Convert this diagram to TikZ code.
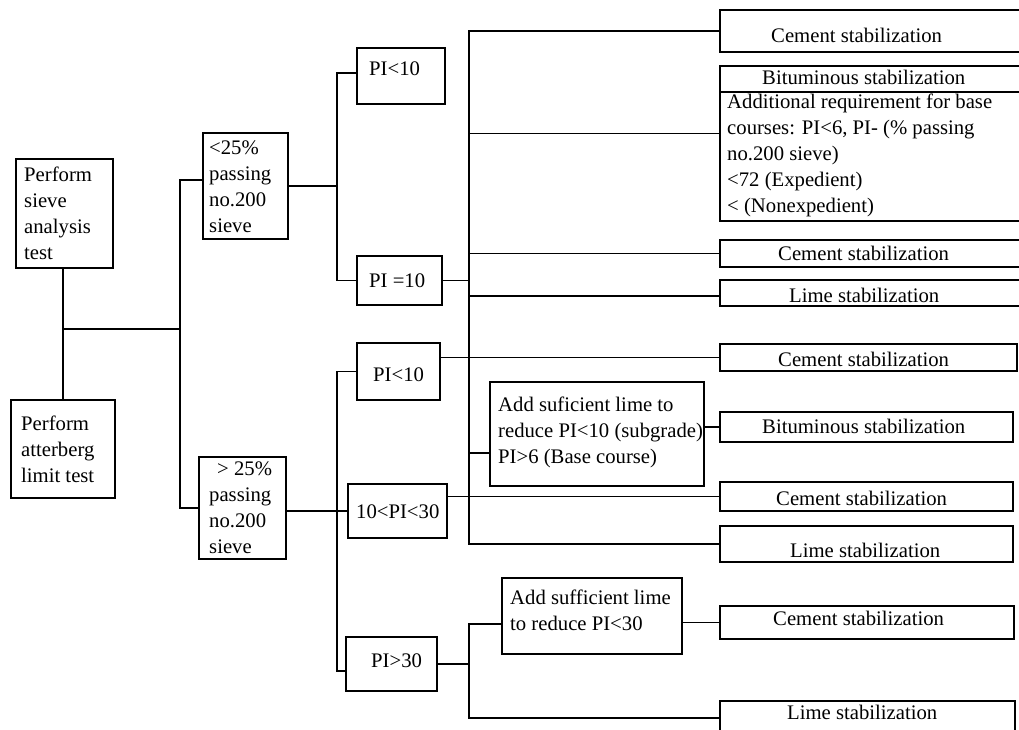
\documentclass[tikz,border=0pt]{standalone}
\usepackage{fontspec}
\setmainfont{Liberation Serif}
\newcommand\fs{\fontsize{20.7}{26}\selectfont}
\tikzset{
  box/.style={draw, line width=1.3pt, inner sep=0pt, outer sep=0pt, rectangle},
  ln/.style={line width=1.3pt},
  txt/.style={inner sep=0pt, font=\fs, align=left, anchor=west},
  one/.style={txt, text height=14pt, text depth=0pt}
}
\newcommand\mybox[5]{\node[box, anchor=north west, minimum width={(#4-#2)*1pt}, minimum height={(#5-#3)*1pt}] (#1) at (#2,-#3) {};}
\begin{document}
\begin{tikzpicture}[x=1pt,y=1pt]
\useasboundingbox (0,0) rectangle (1019,-729);
\clip (0,0) rectangle (1019,-729);
% boxes
\mybox{sieve}{16}{159}{113}{268}
\mybox{atter}{11}{400}{115}{498}
\mybox{lt25}{203}{133}{288}{239}
\mybox{gt25}{199}{457}{286}{559}
\mybox{pia}{357}{48}{445}{104}
\mybox{pieq}{357}{256}{442}{305}
\mybox{pib}{357}{343}{440}{400}
\mybox{pimid}{348}{484}{447}{538}
\mybox{pihi}{346}{637}{437}{691}
\mybox{addlimea}{490}{382}{704}{486}
\mybox{addlimeb}{502}{578}{682}{654}
\mybox{cementa}{720}{10}{1040}{52}
\mybox{bituma}{720}{66}{1040}{92}
\mybox{addreq}{720}{92}{1040}{221}
\mybox{cementb}{720}{240}{1040}{267}
\mybox{limea}{720}{280}{1040}{306}
\mybox{cementc}{720}{344}{1017}{371}
\mybox{bitumb}{720}{412}{1013}{442}
\mybox{cementd}{720}{482}{1013}{511}
\mybox{limeb}{720}{526}{1013}{562}
\mybox{cemente}{720}{606}{1014}{639}
\mybox{limec}{720}{701}{1015}{735}
% texts
\node[txt] (sieve-t) at (24,-213.5) {Perform\\sieve\\analysis\\test};
\node[txt] (atter-t) at (21,-449) {Perform\\atterberg\\limit test};
\node[txt] (lt25-t) at (209,-187) {<25\%\\passing\\no.200\\sieve};
\node[txt] (gt25-t) at (209,-508) {\hspace*{8pt}> 25\%\\passing\\no.200\\sieve};
\node[one] (pia-t) at (369,-68) {PI<10};
\node[one] (pieq-t) at (369,-280) {PI =10};
\node[one] (pib-t) at (373,-374) {PI<10};
\node[one] (pimid-t) at (356,-511) {10<PI<30};
\node[one] (pihi-t) at (371,-660) {PI>30};
\node[txt] (addlimea-t) at (498,-432) {Add suficient lime to\\reduce PI<10 (subgrade)\\PI>6 (Base course)};
\node[txt] (addlimeb-t) at (510,-610) {Add sufficient lime\\to reduce PI<30};
\node[one] (cementa-t) at (771,-35.5) {Cement stabilization};
\node[one] (bituma-t) at (762,-77) {Bituminous stabilization};
\node[txt] (addreq-t) at (727,-155) {Additional requirement for base\\courses: PI<6, PI- (\% passing\\no.200 sieve)\\<72 (Expedient)\\< (Nonexpedient)};
\node[one] (cementb-t) at (778,-253) {Cement stabilization};
\node[one] (limea-t) at (789,-295) {Lime stabilization};
\node[one] (cementc-t) at (778,-359) {Cement stabilization};
\node[one] (bitumb-t) at (762,-426) {Bituminous stabilization};
\node[one] (cementd-t) at (776,-498) {Cement stabilization};
\node[one] (limeb-t) at (790,-550) {Lime stabilization};
\node[one] (cemente-t) at (773,-618) {Cement stabilization};
\node[one] (limec-t) at (787,-712) {Lime stabilization};
% junction coordinates
\coordinate (ja) at (63,-329);
\coordinate (jb) at (180,-329);
\coordinate (jc) at (337,-185);
\coordinate (jd) at (337,-511);
\coordinate (va) at (469,-300);
\coordinate (vb) at (469,-668);
\coordinate (lt25-in) at ([yshift=6pt]lt25.west);
\coordinate (pia-in) at ([yshift=3pt]pia.west);
\coordinate (addreq-in) at ([yshift=23pt]addreq.west);
\coordinate (limea-in) at ([yshift=-3pt]limea.west);
\coordinate (pib-out) at (cementc.west -| pib.east);
\coordinate (addlimea-in) at ([yshift=-19pt]addlimea.west);
\coordinate (pihi-in) at ([yshift=-7pt]pihi.west);
\coordinate (addlimeb-in) at ([yshift=-8pt]addlimeb.west);
% connectors
\draw[ln] (atter.north) -- (atter.north |- sieve.south);
\draw[ln] (ja) -- (jb);
\draw[ln] (lt25-in) -| (jb) |- (gt25.west);
\draw[ln] (lt25.east) -- (lt25.east -| jc);
\draw[ln] (pia-in) -| (jc) |- (pieq.west);
\draw[ln] (cementa.west) -| (va) |- (limeb.west);
\draw[ln] (pieq.east) -- (pieq.east -| va);
\draw[ln] (addreq-in) -- (addreq-in -| va);
\draw[ln] (cementb.west) -- (cementb.west -| va);
\draw[ln] (limea-in) -- (limea-in -| va);
\draw[ln] (pib-out) -- (cementc.west);
\draw[ln] (addlimea-in) -- (addlimea-in -| va);
\draw[ln] (addlimea.east |- bitumb.west) -- (bitumb.west);
\draw[ln] (pimid.east |- cementd.west) -- (cementd.west);
\draw[ln] (pib.west) -| (jd) |- (pihi-in);
\draw[ln] (pimid.west -| gt25.east) -- (pimid.west);
\draw[ln] (pihi.east) -- (pihi.east -| vb);
\draw[ln] (addlimeb-in) -| (vb) |- (limec.west);
\draw[ln] (addlimeb.east |- cemente.west) -- (cemente.west);
\end{tikzpicture}
\end{document}
